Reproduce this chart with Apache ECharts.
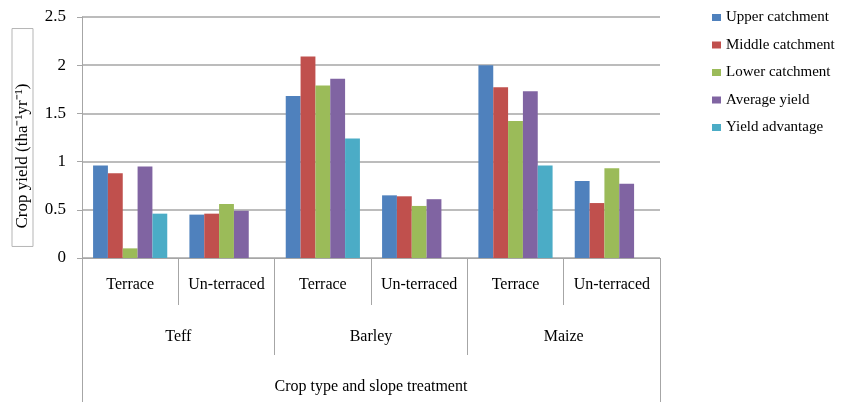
<!DOCTYPE html>
<html>
<head>
<meta charset="utf-8">
<script src="https://cdn.jsdelivr.net/npm/echarts@6/dist/echarts.min.js"></script>
<style>
  html, body { margin: 0; padding: 0; background: #fff; }
  #chart { width: 843px; height: 402px; }
</style>
</head>
<body>
<div id="chart"></div>
<script>
// slope treatment (inner level) and crop (outer level)
const treatments = ['Terrace', 'Un-terraced', 'Terrace', 'Un-terraced', 'Terrace', 'Un-terraced']
const crops = ['Teff', 'Barley', 'Maize']
const outerLabel = ['Crop type and slope treatment']

const upperCatchment = [0.96, 0.45, 1.68, 0.65, 2.0, 0.8]
const middleCatchment = [0.88, 0.46, 2.09, 0.64, 1.77, 0.57]
const lowerCatchment = [0.1, 0.56, 1.79, 0.54, 1.42, 0.93]
const averageYield = [0.95, 0.49, 1.86, 0.61, 1.73, 0.77]
const yieldAdvantage = [0.46, null, 1.24, null, 0.96, null]

const yTicks = [0, 0.5, 1, 1.5, 2, 2.5]

const serif = 'Liberation Serif'
const lineGray = '#a6a6a6'

const chart = echarts.init(document.getElementById('chart'))

function bar(name, data, color) {
  return {
    name: name,
    type: 'bar',
    data: data,
    barGap: '0%',
    barCategoryGap: '23%',
    itemStyle: { color: color },
    animation: false
  }
}

chart.setOption({
  textStyle: { fontFamily: serif, color: '#000' },
  grid: { left: 82, right: 183, top: 17, bottom: 144, containLabel: false, outerBoundsMode: 'none' },
  legend: {
    orient: 'vertical',
    left: 707,
    top: 5,
    itemWidth: 9,
    itemHeight: 7,
    itemGap: 12.5,
    icon: 'rect',
    textStyle: { fontFamily: serif, fontSize: 15, color: '#000' },
    data: ['Upper catchment', 'Middle catchment', 'Lower catchment', 'Average yield', 'Yield advantage']
  },
  xAxis: [
    {
      type: 'category',
      position: 'bottom',
      data: treatments,
      axisLine: { show: true, lineStyle: { color: lineGray, width: 1 } },
      axisTick: { show: true, length: 47, lineStyle: { color: lineGray } },
      axisLabel: { fontFamily: serif, fontSize: 16, color: '#000', margin: 19, interval: 0 }
    },
    {
      type: 'category',
      position: 'bottom',
      offset: 0,
      data: crops,
      axisLine: { show: false },
      axisTick: { show: true, length: 97, lineStyle: { color: lineGray } },
      axisLabel: { fontFamily: serif, fontSize: 16, color: '#000', margin: 71 }
    },
    {
      type: 'category',
      position: 'bottom',
      offset: 0,
      data: outerLabel,
      axisLine: { show: false },
      axisTick: { show: true, length: 150, lineStyle: { color: lineGray } },
      axisLabel: { fontFamily: serif, fontSize: 16, color: '#000', margin: 121 }
    }
  ],
  yAxis: {
    type: 'value',
    min: 0,
    max: yTicks[yTicks.length - 1],
    interval: 0.5,
    name: 'Crop yield (tha⁻¹yr⁻¹)',
    nameLocation: 'middle',
    nameRotate: 90,
    nameGap: 49,
    nameTextStyle: {
      fontFamily: serif,
      fontSize: 17,
      color: '#000',
      borderColor: '#b5b5b5',
      borderWidth: 1,
      padding: [2, 55, 2, 18]
    },
    axisLine: { show: true, lineStyle: { color: lineGray } },
    axisTick: { show: true, length: 5, lineStyle: { color: lineGray } },
    axisLabel: {
      fontFamily: serif,
      fontSize: 17,
      color: '#000',
      margin: 16,
      formatter: v => String(v)
    },
    splitLine: { lineStyle: { color: lineGray, width: 1.5 } }
  },
  series: [
    bar('Upper catchment', upperCatchment, '#4f81bd'),
    bar('Middle catchment', middleCatchment, '#c0504d'),
    bar('Lower catchment', lowerCatchment, '#9bbb59'),
    bar('Average yield', averageYield, '#8064a2'),
    bar('Yield advantage', yieldAdvantage, '#4bacc6')
  ]
})
</script>
</body>
</html>
